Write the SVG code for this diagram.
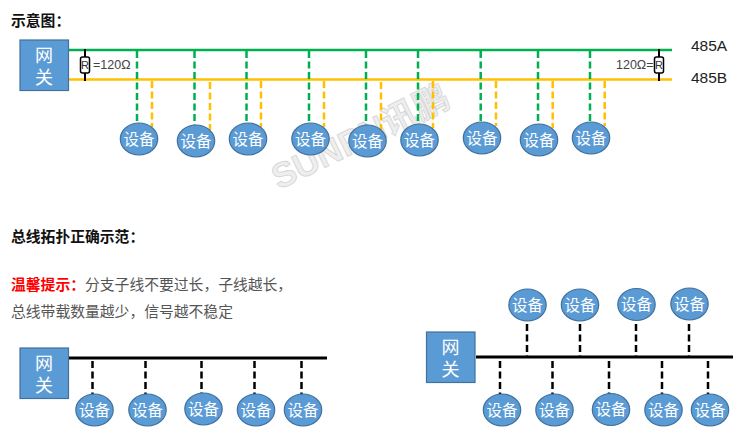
<svg xmlns="http://www.w3.org/2000/svg" width="750" height="447" viewBox="0 0 750 447">
<style>
text{font-family:"Noto Sans CJK SC","Liberation Sans",sans-serif}
.h{font-size:14.800px;font-weight:700;fill:#111}
.box{fill:#5b9bd5;stroke:#41719c;stroke-width:1.2}
.dev{fill:#5b9bd5;stroke:#41719c;stroke-width:1.2}
.lb{fill:#fff;text-anchor:middle}
.d{font-size:15.500px}
.g{font-size:18px}
.gd{stroke:#00b050;stroke-width:2.5;stroke-dasharray:7 3.5;fill:none}
.yd{stroke:#ffc000;stroke-width:2.5;stroke-dasharray:7 3.5;fill:none}
.kd{stroke:#000;stroke-width:2.5;stroke-dasharray:7 3.5;fill:none}
.res{fill:#fff;stroke:#000;stroke-width:1.5}
.r{font-size:11px;fill:#333;text-anchor:middle;font-family:"Liberation Sans",sans-serif}
.t{font-size:12.500px;fill:#444;font-family:"Liberation Sans",sans-serif}
.p{font-size:14.800px;fill:#555}
.n{font-size:15.500px;fill:#222;font-family:"Liberation Sans",sans-serif}
</style>
<defs>
<g id="dv"><ellipse class="dev" rx="18.7" ry="16"/><text class="lb d" y="5.500">设备</text></g>
<g id="gw"><rect class="box" width="48.5" height="50.5"/><text class="lb g" x="24" y="21.5">网</text><text class="lb g" x="24" y="44">关</text></g>
</defs>
<g id="watermark" transform="translate(279 190) rotate(-26)" font-size="35" font-weight="700" fill="#eeeeee" stroke="#d4d4d4" stroke-width="0.8"><text style="font-family:'Liberation Sans','Noto Sans CJK SC',sans-serif">SUNPN讯鹏</text></g>
<text class="h" x="11" y="26">示意图：</text>
<text class="h" x="11" y="242">总线拓扑正确示范：</text>
<text x="11" y="290" style="font-size:14.800px;font-weight:700;fill:#f00">温馨提示：</text>
<text class="p" x="85" y="290">分支子线不要过长，子线越长，</text>
<text class="p" x="11" y="317">总线带载数量越少，信号越不稳定</text>
<g id="connectors">
<path d="M68 50H672" stroke="#00b050" stroke-width="2.5" fill="none"/>
<path d="M68 79.500H672" stroke="#ffc000" stroke-width="2.500" fill="none"/>
<path class="gd" d="M137 51V124M194.500 51V126M246.500 51V124M309 51V124M366 51V126M418 51V125M480.700 51V122M538 51V125M590 51V122"/>
<path class="yd" d="M152 81V127M210 82V130M261 81V127M324 81V127M381 82V130M433 81V128M496 81V126M552.700 81V128M604.700 81V126"/>
<path d="M85 49V81M659 49V81" stroke="#000" stroke-width="2" fill="none"/>
<path d="M68 358H327M476 357H733" stroke="#000" stroke-width="3.200" fill="none"/>
<path class="kd" d="M92.500 361V395M145.500 361V395M201.500 361V394M254.500 361V395M301.500 361V395M500 361V395M552.500 361V395M609 361V394M662 361V395M708 361V395M527 324V356M580 324V356M636 324V356M689 324V356"/>
</g>
<g id="res1"><rect class="res" x="80.500" y="57" width="9" height="16" rx="2"/><text class="r" x="85" y="69">R</text><text class="t" x="93" y="69">=120Ω</text></g>
<g id="res2"><rect class="res" x="654.500" y="57" width="9" height="16" rx="2"/><text class="r" x="659" y="69">R</text><text class="t" x="616" y="69">120Ω=</text></g>
<text id="l485a" class="n" x="691" y="50.500">485A</text>
<text id="l485b" class="n" x="691" y="83">485B</text>
<g id="gateway1" transform="translate(20 40)"><use href="#gw"/></g>
<g id="gateway2" transform="translate(20 348)"><use href="#gw"/></g>
<g id="gateway3" transform="translate(426.500 332)"><use href="#gw"/></g>
<g id="d1" transform="translate(139 139)"><use href="#dv"/></g>
<g id="d2" transform="translate(196 141)"><use href="#dv"/></g>
<g id="d3" transform="translate(248 139)"><use href="#dv"/></g>
<g id="d4" transform="translate(310.500 139)"><use href="#dv"/></g>
<g id="d5" transform="translate(367.500 141)"><use href="#dv"/></g>
<g id="d6" transform="translate(419.500 140)"><use href="#dv"/></g>
<g id="d7" transform="translate(482 138)"><use href="#dv"/></g>
<g id="d8" transform="translate(539 140)"><use href="#dv"/></g>
<g id="d9" transform="translate(591 138)"><use href="#dv"/></g>
<g id="e1" transform="translate(94.500 410)"><use href="#dv"/></g>
<g id="e2" transform="translate(147.500 410)"><use href="#dv"/></g>
<g id="e3" transform="translate(203.500 409)"><use href="#dv"/></g>
<g id="e4" transform="translate(256 410)"><use href="#dv"/></g>
<g id="e5" transform="translate(303 410)"><use href="#dv"/></g>
<g id="f1" transform="translate(527.500 305)"><use href="#dv"/></g>
<g id="f2" transform="translate(580 305)"><use href="#dv"/></g>
<g id="f3" transform="translate(636.500 304.500)"><use href="#dv"/></g>
<g id="f4" transform="translate(689.500 304)"><use href="#dv"/></g>
<g id="f5" transform="translate(502 410)"><use href="#dv"/></g>
<g id="f6" transform="translate(554.500 410)"><use href="#dv"/></g>
<g id="f7" transform="translate(611 409.500)"><use href="#dv"/></g>
<g id="f8" transform="translate(663.500 410)"><use href="#dv"/></g>
<g id="f9" transform="translate(710 410)"><use href="#dv"/></g>
</svg>
